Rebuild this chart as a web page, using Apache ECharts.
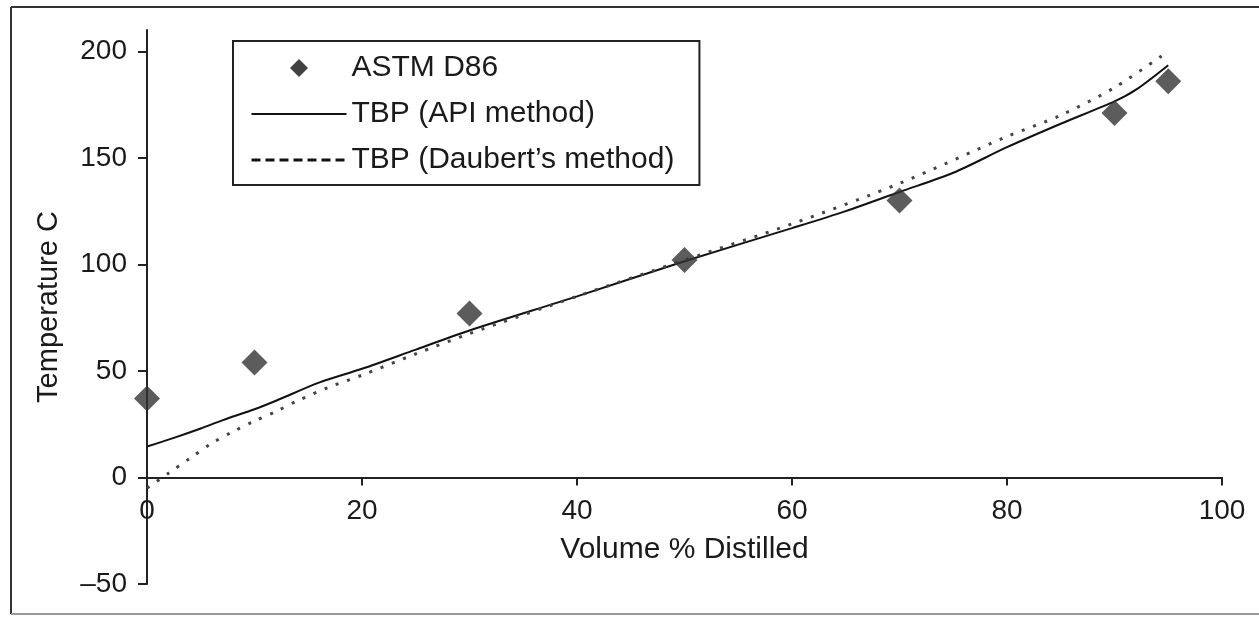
<!DOCTYPE html>
<html>
<head>
<meta charset="utf-8">
<script src="https://cdn.jsdelivr.net/npm/echarts@6/dist/echarts.min.js"></script>
<style>
  html, body { margin: 0; padding: 0; background: #fff; }
  #main { width: 1259px; height: 617px; }
</style>
</head>
<body>
<div id="main"></div>
<script>
// data
var astmX = [0, 10, 30, 50, 70, 90, 95];
var astmY = [37, 54, 77, 102, 130, 171, 186];

var apiX = [0, 2.5, 5, 7, 10, 12, 16, 20, 25, 30, 40, 50, 60, 65, 70, 75, 80, 85, 90, 92, 95];
var apiY = [14.5, 18.6, 23, 26.8, 32, 36, 44.5, 51, 60, 69, 85, 101.5, 117, 125, 134, 143, 155, 166, 176.5, 182, 193.5];

var daubX = [0, 2, 4, 6, 8, 10, 12, 14, 17, 20, 25, 30, 40, 50, 60, 70, 80, 85, 90, 95];
var daubY = [-5, 2, 9, 16, 21.5, 26.5, 31, 36, 42.5, 48, 58, 67.5, 85, 102, 119, 138, 160, 170, 183, 200];

var yTicks = [-50, 0, 50, 100, 150, 200];

function pairs(xs, ys) {
    return xs.map(function (x, i) { return [x, ys[i]]; });
}

var font = 'Liberation Sans, Arial, sans-serif';
var ink = '#1a1a1a';

var gridTop = 30, gridBottom = 33, chartH = 617;
var yMin = -50, yMax = 210;
// x axis sits on the zero line: shift it up from the grid bottom by the height of the negative part
var plotH = chartH - gridTop - gridBottom;
var zeroShift = plotH * (0 - yMin) / (yMax - yMin);

var myChart = echarts.init(document.getElementById('main'));

option = {
    animation: false,
    backgroundColor: '#fff',
    textStyle: { fontFamily: font, color: ink },
    grid: {
        left: 147,
        right: 37,
        top: gridTop,
        bottom: gridBottom,
        outerBoundsMode: 'none',
        containLabel: false
    },
    legend: {
        orient: 'vertical',
        left: 233,
        top: 41,
        padding: [12, 25, 10, 17],
        itemWidth: 95,
        itemHeight: 18,
        itemGap: 16,
        itemTextGap: 8,
        symbolKeepAspect: true,
        borderColor: '#222',
        borderWidth: 2,
        textStyle: { fontFamily: font, fontSize: 30, color: ink },
        data: [
            { name: 'ASTM D86', icon: 'path://M0,-1L1,0L0,1L-1,0Z', itemStyle: { color: '#111' } },
            { name: 'TBP (API method)', itemStyle: { opacity: 0 }, lineStyle: { color: '#111', width: 2, type: 'solid' } },
            { name: 'TBP (Daubert\u2019s method)', itemStyle: { opacity: 0 }, lineStyle: { color: '#111', width: 3, type: [9, 5] } }
        ]
    },
    xAxis: {
        type: 'value',
        min: 0,
        max: 100,
        interval: 20,
        offset: -zeroShift,
        name: 'Volume % Distilled',
        nameLocation: 'middle',
        nameGap: 57,
        nameTextStyle: { fontFamily: font, fontSize: 30, color: ink },
        axisLine: { onZero: false, lineStyle: { color: '#222', width: 2 } },
        axisTick: { length: 8, lineStyle: { color: '#222', width: 2 } },
        axisLabel: { margin: 20, fontFamily: font, fontSize: 28, color: ink },
        splitLine: { show: false }
    },
    yAxis: {
        type: 'value',
        min: yMin,
        max: yMax,
        interval: 50,
        name: 'Temperature C',
        nameLocation: 'middle',
        nameGap: 84,
        nameTextStyle: { fontFamily: font, fontSize: 29, color: ink },
        axisLine: { show: true, onZero: false, lineStyle: { color: '#222', width: 2 } },
        axisTick: { show: true, length: 9, customValues: yTicks, lineStyle: { color: '#222', width: 2 } },
        axisLabel: {
            margin: 20,
            fontFamily: font,
            fontSize: 28,
            color: ink,
            customValues: yTicks,
            formatter: function (v) { return v < 0 ? '\u2013' + Math.abs(v) : String(v); }
        },
        splitLine: { show: false }
    },
    graphic: [
        { type: 'line', shape: { x1: 11, y1: 7, x2: 1259, y2: 7 }, style: { stroke: '#333', lineWidth: 2 } },
        { type: 'line', shape: { x1: 11, y1: 7, x2: 11, y2: 614 }, style: { stroke: '#333', lineWidth: 2 } },
        { type: 'line', shape: { x1: 11, y1: 614, x2: 1259, y2: 614 }, style: { stroke: '#999', lineWidth: 2 } }
    ],
    series: [
        {
            name: 'TBP (API method)',
            type: 'line',
            smooth: 0.3,
            symbol: 'none',
            itemStyle: { color: '#111' },
            lineStyle: { color: '#111', width: 2 },
            data: pairs(apiX, apiY)
        },
        {
            name: 'TBP (Daubert\u2019s method)',
            type: 'line',
            smooth: 0.3,
            symbol: 'none',
            itemStyle: { color: '#444' },
            lineStyle: { color: '#444', width: 3, type: [3, 9] },
            data: pairs(daubX, daubY)
        },
        {
            name: 'ASTM D86',
            type: 'scatter',
            symbol: 'diamond',
            symbolSize: 26,
            itemStyle: { color: '#333' },
            z: 5,
            data: pairs(astmX, astmY)
        }
    ]
};

myChart.setOption(option);
</script>
</body>
</html>
